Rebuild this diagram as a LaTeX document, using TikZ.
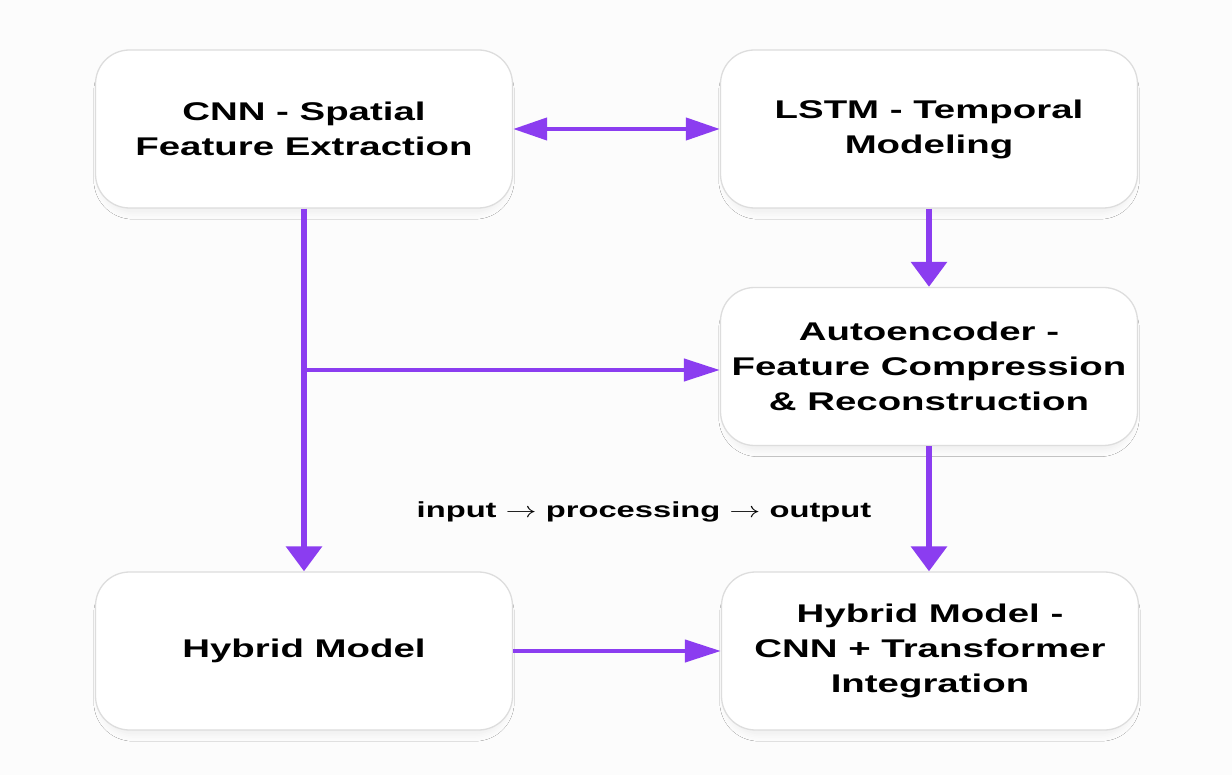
\documentclass[tikz,border=0pt]{standalone}
\usepackage{fontspec}
\usepackage{graphicx}
\newfontfamily\boxfont{Liberation Sans}[FakeStretch=1.5]
\usetikzlibrary{arrows.meta,shadows.blur}

\definecolor{flow}{HTML}{8B3DF0}
\definecolor{boxline}{HTML}{DDDDDD}
\definecolor{paper}{HTML}{FCFCFC}

\tikzset{
  stage/.style={draw=boxline, line width=1.3pt, fill=white, rounded corners=34pt,
    minimum width=417pt, minimum height=158pt, align=center, inner sep=0pt,
    font=\boxfont\bfseries\fontsize{25.6pt}{35pt}\selectfont,
    blur shadow={shadow xshift=0pt, shadow yshift=-7pt, shadow scale=0.98,
      shadow blur radius=6pt, shadow opacity=5}},
  hflow/.style={draw=flow, line width=4.3pt,
    -{Triangle[length=36pt,width=22pt]}},
  hboth/.style={draw=flow, line width=4.3pt,
    {Triangle[length=34pt,width=22pt]}-{Triangle[length=34pt,width=22pt]}},
  vflow/.style={draw=flow, line width=6.5pt,
    -{Triangle[length=25pt,width=35pt]}},
  note/.style={font=\boxfont\bfseries\fontsize{21.8pt}{26pt}\selectfont, inner sep=0pt}
}

\newcommand{\flowarrow}{\scalebox{1.5}[1.05]{$\rightarrow$}}

\begin{document}
\begin{tikzpicture}[x=1pt,y=-1pt]
  % canvas
  \fill[paper] (0,0) rectangle (1232,775);
  \useasboundingbox (0,0) rectangle (1232,775);

  % stages
  \node[stage] (cnn)  at (304,129)   {CNN - Spatial\\Feature Extraction};
  \node[stage] (lstm) at (929,129)   {LSTM - Temporal\\Modeling};
  \node[stage] (ae)   at (929,366.5) {Autoencoder -\\Feature Compression\\\& Reconstruction};
  \node[stage] (hyb)  at (304,651)   {Hybrid Model};
  \node[stage] (hct)  at (930,651)   {Hybrid Model -\\CNN + Transformer\\Integration};

  % caption between the rows
  \node[note] (cap) at (644,512) {input \flowarrow{} processing \flowarrow{} output};

  % connectors
  \draw[hboth] (cnn.east) -- (lstm.west);
  \draw[vflow] (lstm.south) -- (ae.north);
  \draw[vflow] (ae.south) -- (ae.south |- hct.north);
  \draw[vflow] (cnn.south) -- (hyb.north);
  \coordinate (br) at (304,370);
  \draw[hflow] (br) -- (br -| ae.west);
  \draw[hflow] (hyb.east) -- (hct.west);
\end{tikzpicture}
\end{document}
